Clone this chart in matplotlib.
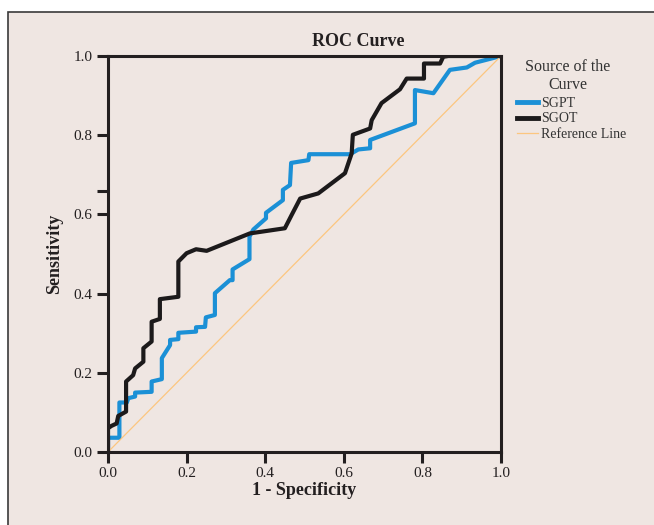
import matplotlib
matplotlib.use('Agg')
import matplotlib.pyplot as plt
from matplotlib.patches import Rectangle

# ROC points (1 - specificity, sensitivity)
sgpt_fpr = [0, 0, 0.029, 0.029, 0.048, 0.052, 0.069, 0.069, 0.111, 0.111, 0.137, 0.137,
            0.158, 0.158, 0.179, 0.179, 0.224, 0.224, 0.247, 0.249, 0.272, 0.272, 0.310,
            0.317, 0.317, 0.360, 0.360, 0.370, 0.402, 0.402, 0.445, 0.445, 0.463, 0.466,
            0.510, 0.512, 0.616, 0.637, 0.667, 0.667, 0.781, 0.781, 0.828, 0.870, 0.913,
            0.934, 1.0]
sgpt_tpr = [0, 0.036, 0.036, 0.125, 0.125, 0.136, 0.140, 0.150, 0.152, 0.178, 0.184, 0.237,
            0.270, 0.283, 0.285, 0.301, 0.304, 0.315, 0.316, 0.340, 0.346, 0.401, 0.434,
            0.434, 0.461, 0.487, 0.544, 0.562, 0.590, 0.604, 0.636, 0.662, 0.674, 0.730,
            0.737, 0.752, 0.752, 0.764, 0.767, 0.788, 0.830, 0.914, 0.906, 0.965, 0.971,
            0.983, 1.0]

sgot_fpr = [0, 0, 0.009, 0.022, 0.026, 0.046, 0.046, 0.064, 0.069, 0.090, 0.090, 0.111,
            0.111, 0.132, 0.132, 0.179, 0.179, 0.200, 0.224, 0.251, 0.361, 0.450, 0.467,
            0.489, 0.535, 0.603, 0.620, 0.623, 0.667, 0.671, 0.696, 0.743, 0.760, 0.804,
            0.804, 0.845, 0.853, 0.866, 1.0]
sgot_tpr = [0, 0.060, 0.066, 0.072, 0.091, 0.102, 0.178, 0.194, 0.211, 0.228, 0.262, 0.279,
            0.329, 0.336, 0.386, 0.392, 0.481, 0.502, 0.512, 0.508, 0.552, 0.565, 0.598,
            0.640, 0.653, 0.704, 0.754, 0.801, 0.817, 0.838, 0.881, 0.916, 0.943, 0.943,
            0.981, 0.981, 0.998, 1.0, 1.0]

ref_line = [0, 1]
ticks = [0.0, 0.2, 0.4, 0.6, 0.8, 1.0]
tick_labels = ['0.0', '0.2', '0.4', '0.6', '0.8', '1.0']
series_labels = ['SGPT', 'SGOT', 'Reference Line']

plt.rcParams['font.family'] = ['Liberation Serif', 'DejaVu Serif']
ink = '#231f20'

fig = plt.figure(figsize=(6.54, 5.25), dpi=100, facecolor='white')
# beige panel with a thin border, like the SPSS chart frame
fig.patches.append(Rectangle((8 / 654, -0.02), 1.1, 1 - 12 / 525 + 0.02,
                             transform=fig.transFigure, facecolor='#efe6e2',
                             edgecolor='#3a3a3a', linewidth=1.2, zorder=-5))

ax = fig.add_axes([108 / 654, 1 - 452 / 525, 393 / 654, 396 / 525])
ax.set_facecolor('none')
ax.set_zorder(2)

l1, = ax.plot(sgpt_fpr, sgpt_tpr, color='#1b90d6', linewidth=3.0, label=series_labels[0])
l2, = ax.plot(sgot_fpr, sgot_tpr, color='#1c1a1b', linewidth=3.0,
              solid_joinstyle='round', label=series_labels[1])
l3, = ax.plot(ref_line, ref_line, color='#fcc67f', linewidth=0.9, label=series_labels[2])

ax.set_xlim(0, 1)
ax.set_ylim(0, 1)
ax.set_xticks(ticks)
ax.set_xticklabels(tick_labels)
ax.set_yticks(ticks)
ax.set_yticklabels(tick_labels)
ax.set_yticks([0.659], minor=True)
ax.tick_params(which='both', direction='out', length=8, width=2.2, color=ink,
               labelsize=11, labelcolor=ink, pad=3)
for s in ax.spines.values():
    s.set_linewidth(2.2)
    s.set_color(ink)

ax.set_xlabel('1 - Specificity', fontsize=13, fontweight='bold', color=ink, labelpad=1)
ax.set_ylabel('Sensitivity', fontsize=13, fontweight='bold', color=ink, labelpad=8)
fig.text(358 / 654, 1 - 42 / 525, 'ROC Curve', fontsize=13, fontweight='bold',
         color=ink, ha='center', va='center')

# legend title drawn on its own so the gap above the entries matches
fig.text(568 / 654, 1 - 76 / 525, 'Source of the\nCurve', fontsize=11.5, color='#333333',
         ha='center', va='center', multialignment='center', linespacing=1.2)
leg = fig.legend([l1, l2, l3], series_labels, loc='upper left',
                 bbox_to_anchor=(517 / 654, 1 - 97 / 525), frameon=False, fontsize=10,
                 handlelength=1.5, handletextpad=0.25, labelspacing=0.18,
                 borderpad=0, borderaxespad=0)
for t in leg.get_texts():
    t.set_color('#333333')
for h in leg.legend_handles[:2]:
    h.set_linewidth(3.5)

fig.savefig('out.png', dpi=100, facecolor='white')
